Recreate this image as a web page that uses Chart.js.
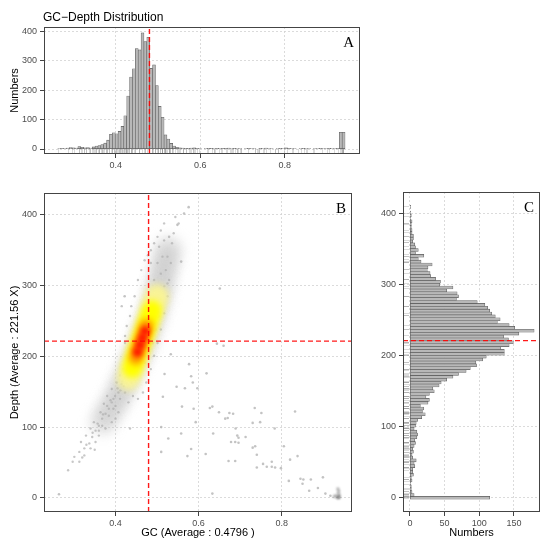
<!DOCTYPE html>
<html>
<head>
<meta charset="utf-8">
<script src="https://cdn.jsdelivr.net/npm/chart.js@4.4.0/dist/chart.umd.min.js"></script>
<style>
  body { margin: 0; background: #fff; }
  #wrap { position: relative; width: 550px; height: 547px; }
  .panel { position: absolute; }
</style>
</head>
<body>
<div id="wrap">
  <div class="panel" style="left:0;top:0;width:365px;height:180px"><canvas id="histGc"></canvas></div>
  <div class="panel" style="left:0;top:180px;width:365px;height:367px"><canvas id="scatter"></canvas></div>
  <div class="panel" style="left:365px;top:180px;width:185px;height:367px"><canvas id="histDepth"></canvas></div>
</div>
<script>
const gcMean = 0.4796;
const depthMean = 221.56;

// panel A : GC histogram (100 bins)
const gcBinStart = 0.266;
const gcBinWidth = 0.0068;
const gcCounts = [
  1, 2, 1, 3, 5, 4, 3, 8, 6, 4,
  5, 3, 7, 10, 12, 15, 20, 30, 50, 55,
  52, 60, 77, 113, 180, 245, 273, 342, 337, 395,
  365, 380, 274, 286, 216, 145, 108, 48, 34, 19,
  10, 6, 4, 3, 2, 2, 3, 4, 2, 1,
  0, 1, 2, 2, 1, 2, 1, 2, 2, 3,
  1, 2, 1, 1, 0, 1, 2, 1, 1, 0,
  2, 1, 3, 1, 1, 0, 1, 2, 1, 4,
  2, 1, 1, 0, 1, 2, 1, 1, 0, 1,
  1, 2, 1, 1, 2, 1, 1, 2, 57, 57
];

// panel C : depth histogram
const depthBinWidth = 4.06;
const depthCounts = [
  115, 6, 3, 2, 2, 1, 3, 2, 5, 4,
  4, 7, 6, 9, 4, 3, 5, 4, 6, 8,
  7, 10, 11, 10, 6, 8, 9, 11, 17, 22,
  18, 20, 15, 26, 28, 23, 28, 35, 33, 42,
  45, 53, 62, 70, 81, 87, 96, 95, 105, 110,
  136, 136, 131, 143, 149, 142, 135, 157, 179, 151,
  143, 126, 130, 123, 118, 115, 112, 108, 97, 67,
  70, 68, 53, 62, 43, 44, 37, 30, 29, 25,
  26, 32, 16, 12, 20, 8, 12, 8, 7, 4,
  5, 5, 3, 3, 2, 2, 3, 1, 2, 1,
  0, 1
];

// tick labels
const gcTicks = [0.4, 0.6, 0.8];
const depthTicks = [0, 100, 200, 300, 400];
const countTicksA = [0, 100, 200, 300, 400];
const countTicksC = [0, 50, 100, 150];

// axis limits
const gcRangeA = [0.23, 0.978];
const gcRangeB = [0.228, 0.969];
const depthRange = [-20, 431];
const countRangeA = [-17, 415];
const countRangeC = [-10, 187.5];

// panel B : density layers along the main cloud, [GC, depth]
const densityHaze = [
  [0.37, 108], [0.385, 122], [0.398, 135], [0.41, 148], [0.42, 160], [0.43, 173],
  [0.44, 186], [0.449, 198], [0.458, 210], [0.466, 222], [0.474, 234], [0.482, 247],
  [0.489, 260], [0.496, 273], [0.502, 286], [0.507, 299], [0.512, 312], [0.517, 325],
  [0.522, 338], [0.528, 352]
];
const densityPale = [
  [0.431, 168], [0.438, 180], [0.445, 192], [0.452, 204], [0.459, 216], [0.466, 228],
  [0.473, 240], [0.48, 252], [0.487, 264], [0.494, 276], [0.5, 286]
];
const densityYellow = [
  [0.44, 183], [0.447, 195], [0.454, 207], [0.461, 219], [0.468, 231], [0.475, 243],
  [0.482, 255], [0.488, 266]
];
const densityOrange = [
  [0.449, 198], [0.455, 209], [0.461, 220], [0.468, 232], [0.474, 243]
];
const densityRed = [
  [0.453, 206], [0.459, 216], [0.465, 226], [0.471, 236]
];

// panel B : single points of the cloud
const cloudDots = [
  [0.286, 39], [0.297, 51], [0.301, 58], [0.313, 65], [0.325, 70], [0.317, 79], [0.337, 77],
  [0.329, 88], [0.344, 86], [0.340, 98], [0.352, 95], [0.360, 102], [0.348, 107], [0.368, 112],
  [0.364, 121], [0.376, 119], [0.384, 126], [0.372, 133], [0.391, 135], [0.380, 144], [0.399, 144],
  [0.391, 154], [0.407, 149], [0.403, 163], [0.415, 161], [0.411, 173], [0.423, 170], [0.419, 182],
  [0.431, 191], [0.427, 201], [0.435, 210], [0.423, 219], [0.415, 271], [0.435, 98],
  [0.454, 140], [0.466, 149], [0.474, 163], [0.485, 182], [0.493, 201], [0.501, 219], [0.509, 238],
  [0.517, 261], [0.525, 285], [0.529, 308], [0.533, 332], [0.525, 341], [0.536, 360], [0.540, 374],
  [0.552, 388], [0.544, 397], [0.517, 364],
  [0.446, 285], [0.438, 271], [0.435, 257], [0.427, 243], [0.423, 229], [0.454, 308], [0.462, 322],
  [0.470, 336], [0.485, 350], [0.493, 360], [0.501, 369], [0.509, 378], [0.517, 388], [0.478, 343],
  [0.505, 355],
  [0.368, 102], [0.384, 116], [0.395, 126], [0.411, 140], [0.423, 149], [0.438, 163], [0.442, 144],
  [0.431, 135], [0.407, 121], [0.391, 107], [0.376, 98], [0.360, 88], [0.352, 79], [0.340, 70],
  [0.325, 60], [0.313, 51],
  [0.501, 332], [0.509, 317], [0.493, 308], [0.517, 299], [0.485, 332], [0.513, 341], [0.521, 322],
  [0.525, 303], [0.454, 182], [0.470, 191], [0.478, 205], [0.489, 219], [0.497, 238], [0.505, 257],
  [0.509, 271],
  [0.33, 75], [0.345, 92], [0.357, 105], [0.37, 118], [0.38, 130], [0.395, 140], [0.405, 155],
  [0.417, 165], [0.36, 95], [0.388, 138], [0.4, 130], [0.412, 152], [0.42, 158], [0.43, 180],
  [0.445, 172], [0.4, 112], [0.35, 68], [0.32, 57]
];
const outlierDots = [
  [0.576, 411], [0.565, 402], [0.549, 386], [0.529, 369], [0.558, 334], [0.651, 296], [0.644, 218],
  [0.66, 215], [0.533, 203], [0.577, 189], [0.518, 175], [0.619, 176], [0.582, 172], [0.586, 163],
  [0.567, 155], [0.597, 155], [0.547, 157], [0.514, 143], [0.56, 129], [0.588, 126], [0.627, 127],
  [0.633, 129], [0.649, 121], [0.674, 120], [0.683, 119], [0.664, 112], [0.67, 113], [0.735, 127],
  [0.751, 120], [0.73, 106], [0.748, 107], [0.593, 107], [0.832, 122], [0.51, 100], [0.689, 98],
  [0.783, 98], [0.558, 91], [0.635, 91], [0.527, 84], [0.693, 88], [0.696, 85], [0.713, 86],
  [0.678, 79], [0.688, 79], [0.696, 78], [0.582, 69], [0.51, 65], [0.617, 62], [0.573, 59],
  [0.73, 71], [0.736, 73], [0.74, 61], [0.805, 73], [0.838, 59], [0.82, 54], [0.672, 52],
  [0.688, 52], [0.74, 43], [0.755, 48], [0.764, 44], [0.776, 51], [0.776, 44], [0.784, 43],
  [0.798, 42], [0.817, 24], [0.845, 27], [0.852, 26], [0.85, 20], [0.87, 26], [0.899, 29],
  [0.887, 14], [0.866, 10], [0.905, 6], [0.917, 3], [0.633, 6], [0.264, 5], [0.422, 285]
];
const edgeCluster = [
  [0.936, 0], [0.937, 2], [0.938, 4], [0.936, 7], [0.937, 10], [0.935, 13], [0.934, 1],
  [0.93, 3], [0.926, 2], [0.938, 1]
];

const allDots = cloudDots.concat(outlierDots, edgeCluster);

const FONT = '"Liberation Sans", Arial, sans-serif';

function axis(range, ticks, title, fixed, isY, fmt) {
  return {
    type: 'linear',
    min: range[0],
    max: range[1],
    offset: false,
    afterBuildTicks: s => { s.ticks = ticks.map(v => ({ value: v })); },
    afterFit: s => { if (isY) s.width = fixed; else s.height = fixed; },
    grid: { offset: false, color: '#d2d2d2', lineWidth: 0.8, tickLength: 4, tickColor: '#444', tickWidth: 1 },
    border: { display: false, dash: [2, 2] },
    ticks: {
      color: '#4d4d4d', font: { family: FONT, size: 9 }, padding: isY ? 3 : 2,
      maxRotation: 0, autoSkip: false, callback: fmt || (v => String(v))
    },
    title: title
      ? { display: true, text: title, color: '#000', font: { family: FONT, size: 11 },
          padding: isY ? { top: 8, bottom: 0 } : { top: 0, bottom: 7 } }
      : { display: false }
  };
}

const panelFrame = {
  id: 'panelFrame',
  afterDraw(chart, args, opts) {
    const { ctx, chartArea: a } = chart;
    ctx.save();
    ctx.strokeStyle = '#444';
    ctx.lineWidth = 1;
    ctx.strokeRect(Math.round(a.left) + 0.5, Math.round(a.top) + 0.5,
      Math.round(a.right - a.left) - 1, Math.round(a.bottom - a.top) - 1);
    if (opts.letter) {
      ctx.fillStyle = '#000';
      ctx.font = '15px "Liberation Serif", "DejaVu Serif", serif';
      ctx.textAlign = 'right';
      ctx.textBaseline = 'top';
      ctx.fillText(opts.letter, a.right - 6, a.top + 9);
    }
    if (opts.title) {
      ctx.fillStyle = '#000';
      ctx.font = '12px ' + FONT;
      ctx.textAlign = 'left';
      ctx.textBaseline = 'alphabetic';
      ctx.fillText(opts.title, a.left - 1, a.top - 6);
    }
    ctx.restore();
  }
};

// marginal rug of the scatter values, placed with the chart's own scale
const rug = {
  id: 'rug',
  beforeDatasetsDraw(chart, args, opts) {
    if (!opts.values) return;
    const { ctx, chartArea: a, scales } = chart;
    ctx.save();
    ctx.strokeStyle = 'rgba(150,150,150,0.35)';
    ctx.lineWidth = 1;
    ctx.beginPath();
    opts.values.forEach(v => {
      if (opts.axis === 'x') {
        const x = Math.round(scales.x.getPixelForValue(v)) + 0.5;
        ctx.moveTo(x, a.bottom);
        ctx.lineTo(x, a.bottom - opts.length);
      } else {
        const y = Math.round(scales.y.getPixelForValue(v)) + 0.5;
        ctx.moveTo(a.left, y);
        ctx.lineTo(a.left + opts.length, y);
      }
    });
    ctx.stroke();
    ctx.restore();
  }
};

const blurLayers = {
  id: 'blurLayers',
  beforeDatasetDraw(chart, args) {
    const ds = chart.data.datasets[args.index];
    chart.ctx.save();
    if (ds.blur) chart.ctx.filter = 'blur(' + ds.blur + 'px)';
  },
  afterDatasetDraw(chart) {
    chart.ctx.restore();
  }
};

const baseOptions = {
  responsive: true,
  maintainAspectRatio: false,
  animation: false,
  events: [],
  plugins: { legend: { display: false }, tooltip: { enabled: false } }
};

const redDash = { borderColor: 'rgba(255,0,0,0.9)', borderWidth: 1.4, borderDash: [5, 3], pointRadius: 0, fill: false };

const pts = arr => arr.map(p => ({ x: p[0], y: p[1] }));

// ---- A : GC histogram
new Chart(document.getElementById('histGc'), {
  type: 'bar',
  data: {
    datasets: [
      Object.assign({
        type: 'line', order: 0,
        data: [{ x: gcMean, y: countRangeA[0] }, { x: gcMean, y: countRangeA[1] }]
      }, redDash),
      {
        type: 'bar', order: 2,
        data: gcCounts.map((c, i) => ({ x: gcBinStart + i * gcBinWidth, y: c })),
        backgroundColor: '#b8b8b8', borderColor: '#5e5e5e', borderWidth: 0.6,
        borderSkipped: false, barPercentage: 1, categoryPercentage: 1
      }
    ]
  },
  options: Object.assign({}, baseOptions, {
    layout: { padding: { top: 27, right: 5, left: 0, bottom: 0 } },
    scales: {
      x: axis(gcRangeA, gcTicks, null, 26, false, v => v.toFixed(1)),
      y: axis(countRangeA, countTicksA, 'Numbers', 44, true)
    },
    plugins: Object.assign({}, baseOptions.plugins, {
      panelFrame: { letter: 'A', title: 'GC\u2212Depth Distribution' },
      rug: { axis: 'x', length: 5, values: allDots.map(p => p[0]) }
    })
  }),
  plugins: [rug, panelFrame]
});

// ---- B : GC vs depth density scatter
const layer = (arr, color, radius, blur, order) => ({
  data: pts(arr), order, blur,
  pointRadius: radius, pointBackgroundColor: color, pointBorderWidth: 0
});

new Chart(document.getElementById('scatter'), {
  type: 'scatter',
  data: {
    datasets: [
      Object.assign({
        showLine: true, order: 0,
        data: [{ x: gcMean, y: depthRange[0] }, { x: gcMean, y: depthRange[1] }]
      }, redDash),
      Object.assign({
        showLine: true, order: 0,
        data: [{ x: gcRangeB[0], y: depthMean }, { x: gcRangeB[1], y: depthMean }]
      }, redDash),
      layer(densityRed, '#ff1400', 5, 2.5, 1),
      layer(densityOrange, '#ff9a00', 7, 3, 2),
      layer(densityYellow, '#ffff00', 9.5, 3, 3),
      layer(densityPale, 'rgba(250,244,150,0.95)', 11.5, 3.5, 4),
      layer(cloudDots, 'rgba(175,175,175,0.7)', 1.2, 0, 5),
      layer(outlierDots, 'rgba(180,180,180,0.8)', 1.3, 0, 5),
      layer(edgeCluster, 'rgba(110,110,110,0.55)', 1.5, 0.8, 5),
      layer(densityHaze, 'rgba(200,200,200,0.55)', 13, 6, 6)
    ]
  },
  options: Object.assign({}, baseOptions, {
    layout: { padding: { top: 12, right: 6, left: 0, bottom: 0 } },
    scales: {
      x: axis(gcRangeB, gcTicks, 'GC (Average : 0.4796 )', 35, false, v => v.toFixed(1)),
      y: axis(depthRange, depthTicks, 'Depth (Average : 221.56 X)', 44, true)
    },
    plugins: Object.assign({}, baseOptions.plugins, { panelFrame: { letter: 'B' } })
  }),
  plugins: [blurLayers, panelFrame]
});

// ---- C : depth histogram
new Chart(document.getElementById('histDepth'), {
  type: 'bar',
  data: {
    datasets: [
      Object.assign({
        type: 'line', order: 0,
        data: [{ x: countRangeC[0], y: depthMean }, { x: countRangeC[1], y: depthMean }]
      }, redDash),
      {
        type: 'bar', order: 2, indexAxis: 'y',
        data: depthCounts.map((c, k) => ({ x: c, y: k * depthBinWidth })),
        backgroundColor: '#b8b8b8', borderColor: '#5e5e5e', borderWidth: 0.6,
        borderSkipped: false, barPercentage: 1, categoryPercentage: 1
      }
    ]
  },
  options: Object.assign({}, baseOptions, {
    layout: { padding: { top: 12, right: 10, left: 0, bottom: 0 } },
    scales: {
      x: axis(countRangeC, countTicksC, 'Numbers', 35, false),
      y: axis(depthRange, depthTicks, null, 38, true)
    },
    plugins: Object.assign({}, baseOptions.plugins, {
      panelFrame: { letter: 'C' },
      rug: { axis: 'y', length: 6, values: allDots.map(p => p[1]) }
    })
  }),
  plugins: [rug, panelFrame]
});
</script>
</body>
</html>
